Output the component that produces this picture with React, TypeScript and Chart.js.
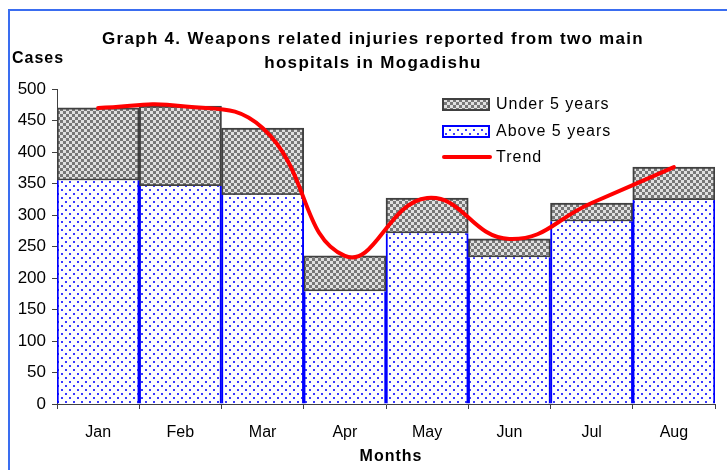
import React, { useEffect, useRef } from "react";
import { Chart, registerables } from "chart.js";

Chart.register(...registerables);

const months = ["Jan", "Feb", "Mar", "Apr", "May", "Jun", "Jul", "Aug"];
const above5 = [355, 346, 332, 179, 271, 233, 290, 324];
const under5 = [115, 127, 106, 56, 56, 29, 29, 52];
const trend = [470, 473, 438, 235, 327, 262, 319, 376];
const titleLines = ["Graph 4. Weapons related injuries reported from two main", "hospitals in Mogadishu"];
const yTitle = "Cases";
const xTitle = "Months";
const legendLabels = ["Under 5 years", "Above 5 years", "Trend"];

function makeChecker(): CanvasPattern | string {
  const c = document.createElement("canvas");
  c.width = 6;
  c.height = 6;
  const g = c.getContext("2d");
  if (!g) return "#999";
  g.fillStyle = "#e0e0e0";
  g.fillRect(0, 0, 6, 6);
  g.fillStyle = "#777777";
  g.fillRect(0, 0, 3, 3);
  g.fillRect(3, 3, 3, 3);
  return g.createPattern(c, "repeat") || "#999";
}

function makeDots(): CanvasPattern | string {
  const c = document.createElement("canvas");
  c.width = 8;
  c.height = 8;
  const g = c.getContext("2d");
  if (!g) return "#ccf";
  g.fillStyle = "#ffffff";
  g.fillRect(0, 0, 8, 8);
  g.fillStyle = "#3a3aff";
  g.fillRect(1, 1, 2, 2);
  g.fillRect(5, 5, 2, 2);
  return g.createPattern(c, "repeat") || "#ccf";
}

export default function App() {
  const ref = useRef<HTMLCanvasElement | null>(null);

  useEffect(() => {
    const canvas = ref.current;
    if (!canvas) return;
    const checker = makeChecker();
    const dots = makeDots();

    const decor = {
      id: "decor",
      afterDraw(chart: any) {
        const ctx = chart.ctx as CanvasRenderingContext2D;
        ctx.save();
        // frame
        ctx.strokeStyle = "#3a6df0";
        ctx.lineWidth = 2;
        ctx.beginPath();
        ctx.moveTo(9, 470);
        ctx.lineTo(9, 10);
        ctx.lineTo(727, 10);
        ctx.stroke();

        ctx.fillStyle = "#000";
        ctx.textBaseline = "middle";
        ctx.font = "bold 17px 'Liberation Sans', Arial, sans-serif";
        (ctx as any).letterSpacing = "1.3px";
        ctx.textAlign = "center";
        ctx.fillText(titleLines[0], 373, 39);
        ctx.fillText(titleLines[1], 373, 63);
        (ctx as any).letterSpacing = "1px";
        ctx.font = "bold 16px 'Liberation Sans', Arial, sans-serif";
        ctx.fillText(xTitle, 391, 457);
        ctx.textAlign = "left";
        ctx.fillText(yTitle, 12, 59);

        // legend
        ctx.font = "16px 'Liberation Sans', Arial, sans-serif";
        const bx = 443, bw = 46, bh = 11;
        // under 5
        ctx.fillStyle = checker as any;
        ctx.fillRect(bx, 99, bw, bh);
        ctx.strokeStyle = "#404040";
        ctx.lineWidth = 2;
        ctx.strokeRect(bx, 99, bw, bh);
        // above 5
        ctx.fillStyle = dots as any;
        ctx.fillRect(bx, 126, bw, bh);
        ctx.strokeStyle = "#0000ff";
        ctx.strokeRect(bx, 126, bw, bh);
        // trend
        ctx.strokeStyle = "#ff0000";
        ctx.lineWidth = 4;
        ctx.lineCap = "round";
        ctx.beginPath();
        ctx.moveTo(bx + 1, 157);
        ctx.lineTo(bx + 47, 157);
        ctx.stroke();

        ctx.fillStyle = "#000";
        ctx.fillText(legendLabels[0], 496, 105);
        ctx.fillText(legendLabels[1], 496, 132);
        ctx.fillText(legendLabels[2], 496, 158);
        ctx.restore();
      },
    };

    const chart = new Chart(canvas, {
      type: "bar",
      data: {
        labels: months,
        datasets: [
          {
            type: "line",
            label: legendLabels[2],
            data: trend,
            borderColor: "#ff0000",
            borderWidth: 4,
            pointRadius: 0,
            tension: 0.45,
            borderCapStyle: "round",
            fill: false,
            order: 0,
          } as any,
          {
            label: legendLabels[1],
            data: above5,
            backgroundColor: dots as any,
            borderColor: "#0000ff",
            borderWidth: { left: 2, right: 2, top: 0, bottom: 0 },
            borderSkipped: false,
            barPercentage: 1,
            categoryPercentage: 1,
            order: 1,
          },
          {
            label: legendLabels[0],
            data: under5,
            backgroundColor: checker as any,
            borderColor: "#404040",
            borderWidth: 2,
            borderSkipped: false,
            barPercentage: 1,
            categoryPercentage: 1,
            order: 2,
          },
        ],
      },
      options: {
        responsive: false,
        animation: false,
        devicePixelRatio: 1,
        layout: { padding: { left: 0, right: 12, top: 89, bottom: 0 } },
        plugins: {
          legend: { display: false },
          title: { display: false },
          tooltip: { enabled: false },
        },
        scales: {
          x: {
            stacked: true,
            grid: {
              drawOnChartArea: false,
              drawTicks: true,
              tickLength: 5,
              color: "#404040",
              offset: true,
            },
            border: { color: "#404040", width: 1 },
            ticks: {
              color: "#000",
              font: { size: 16, family: "'Liberation Sans', Arial, sans-serif" },
              padding: 14,
              maxRotation: 0,
            },
            afterFit: (s: any) => {
              s.height = 66;
            },
          },
          y: {
            stacked: true,
            min: 0,
            max: 500,
            grid: {
              drawOnChartArea: false,
              drawTicks: true,
              tickLength: 5,
              color: "#404040",
            },
            border: { color: "#404040", width: 1 },
            ticks: {
              stepSize: 50,
              color: "#000",
              font: { size: 17, family: "'Liberation Sans', Arial, sans-serif" },
              padding: 6,
            },
            afterFit: (s: any) => {
              s.width = 57;
            },
          },
        },
      },
      plugins: [decor],
    });

    return () => chart.destroy();
  }, []);

  return (
    <canvas
      ref={ref}
      width={727}
      height={470}
      style={{ position: "fixed", left: 0, top: 0, width: 727, height: 470 }}
    />
  );
}
